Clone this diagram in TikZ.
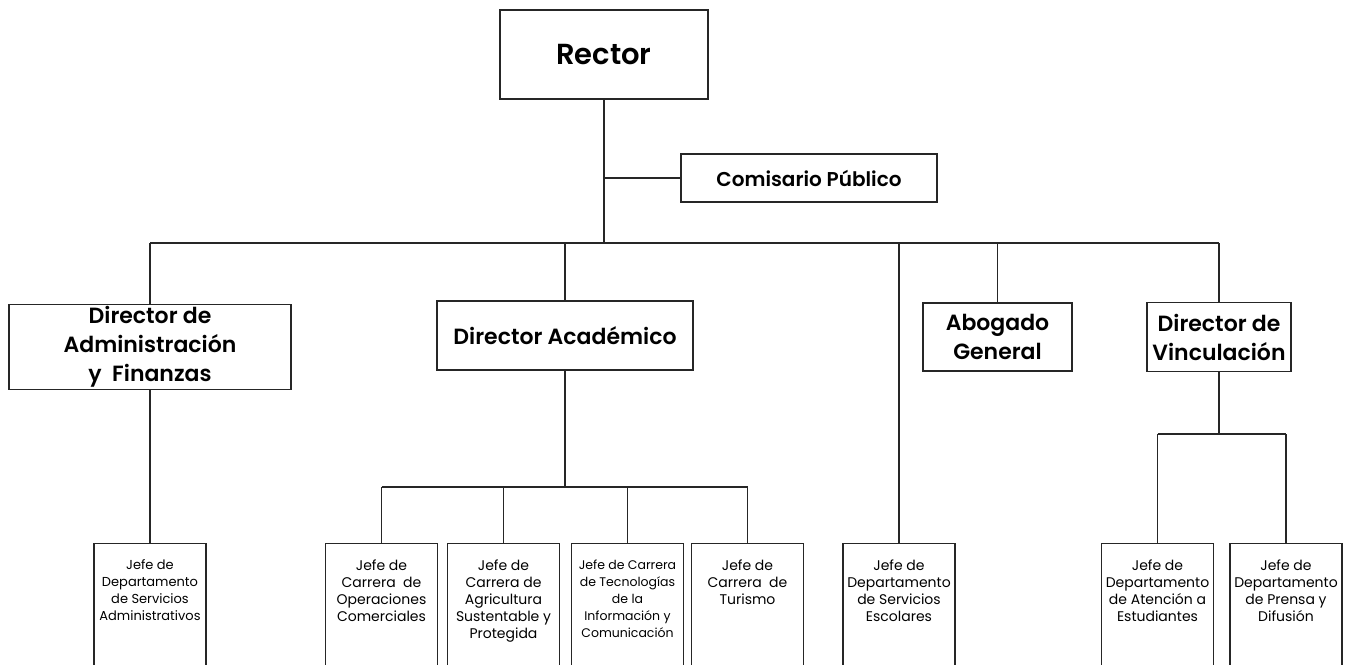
\documentclass[tikz,border=0pt]{standalone}
\usepackage{fontspec}
\setmainfont{Poppins}[BoldFont={Poppins SemiBold}]
\usetikzlibrary{positioning}

\tikzset{
	linea/.style={line width=1.2pt, color=black!85},
	puesto/.style={draw, line width=1.2pt, color=black!85, text=black, align=center, inner sep=0pt, font=\bfseries\fontsize{22}{29}\selectfont},
	jefe/.style={draw, line width=1.2pt, color=black!85, text=black, anchor=north, inner xsep=0pt, inner ysep=16pt, font=\fontsize{14}{17}\selectfont},
}
\newcommand{\jtxt}[1]{\parbox[t][130pt][t]{112pt}{\centering #1}}

\begin{document}
\begin{tikzpicture}[x=1pt, y=-1pt]
	\clip (0,0) rectangle (1354,664);   % page, bottom boxes run out of it

	% top level
	\node[puesto, minimum width=208pt, minimum height=89pt, font=\bfseries\fontsize{29}{34}\selectfont] (rector) at (604,54.5) {Rector};
	\node[puesto, minimum width=256pt, minimum height=48pt, font=\bfseries\fontsize{20}{24}\selectfont] (comisario) at (809,178) {Comisario Público};

	% directors
	\node[puesto, minimum width=282pt, minimum height=85pt] (dirAdmin) at (150,347) {Director de\\Administración\\y\ \ Finanzas};
	\node[puesto, minimum width=256pt, minimum height=69pt] (dirAcad) at (565,335.5) {Director Académico};
	\node[puesto, minimum width=149pt, minimum height=68pt] (abogado) at (997.5,337) {Abogado\\General};
	\node[puesto, minimum width=144pt, minimum height=69pt] (dirVinc) at (1219,337) {Director de\\Vinculación};

	% jefes
	\node[jefe, font=\fontsize{13}{17}\selectfont] (servAdmin) at (150,543) {\jtxt{Jefe de\\Departamento\\de Servicios\\Administrativos}};
	\node[jefe] (operaciones) at (381.5,543) {\jtxt{Jefe de\\Carrera\ \ de\\Operaciones\\Comerciales}};
	\node[jefe] (agricultura) at (503.5,543) {\jtxt{Jefe de\\Carrera de\\Agricultura\\Sustentable y\\Protegida}};
	\node[jefe, font=\fontsize{12.5}{17}\selectfont] (tecnologias) at (627.5,543) {\jtxt{Jefe de Carrera\\de Tecnologías\\de la\\Información y\\Comunicación}};
	\node[jefe] (turismo) at (747.5,543) {\jtxt{Jefe de\\Carrera\ \ de\\Turismo}};
	\node[jefe] (escolares) at (899,543) {\jtxt{Jefe de\\Departamento\\de Servicios\\Escolares}};
	\node[jefe] (atencion) at (1157.5,543) {\jtxt{Jefe de\\Departamento\\de Atención a\\Estudiantes}};
	\node[jefe] (prensa) at (1286,543) {\jtxt{Jefe de\\Departamento\\de Prensa y\\Difusión}};

	% connectors
	\coordinate (bus) at (604,243);
	\coordinate (busAcad) at (565,487);
	\coordinate (busVinc) at (1219,434);

	\draw[linea] (rector.south) -- (bus);
	\draw[linea] (rector.south |- comisario.west) -- (comisario.west);
	\draw[linea] (bus -| dirAdmin.north) -- (bus -| dirVinc.north);   % main bus
	\foreach \n in {dirAdmin, dirAcad, escolares, abogado, dirVinc}
		\draw[linea] (bus -| \n.north) -- (\n.north);

	\draw[linea] (dirAdmin.south) -- (servAdmin.north);

	\draw[linea] (dirAcad.south) -- (busAcad);
	\draw[linea] (busAcad -| operaciones.north) -- (busAcad -| turismo.north);
	\foreach \n in {operaciones, agricultura, tecnologias, turismo}
		\draw[linea] (busAcad -| \n.north) -- (\n.north);

	\draw[linea] (dirVinc.south) -- (busVinc);
	\draw[linea] (busVinc -| atencion.north) -- (busVinc -| prensa.north);
	\foreach \n in {atencion, prensa}
		\draw[linea] (busVinc -| \n.north) -- (\n.north);
\end{tikzpicture}
\end{document}
